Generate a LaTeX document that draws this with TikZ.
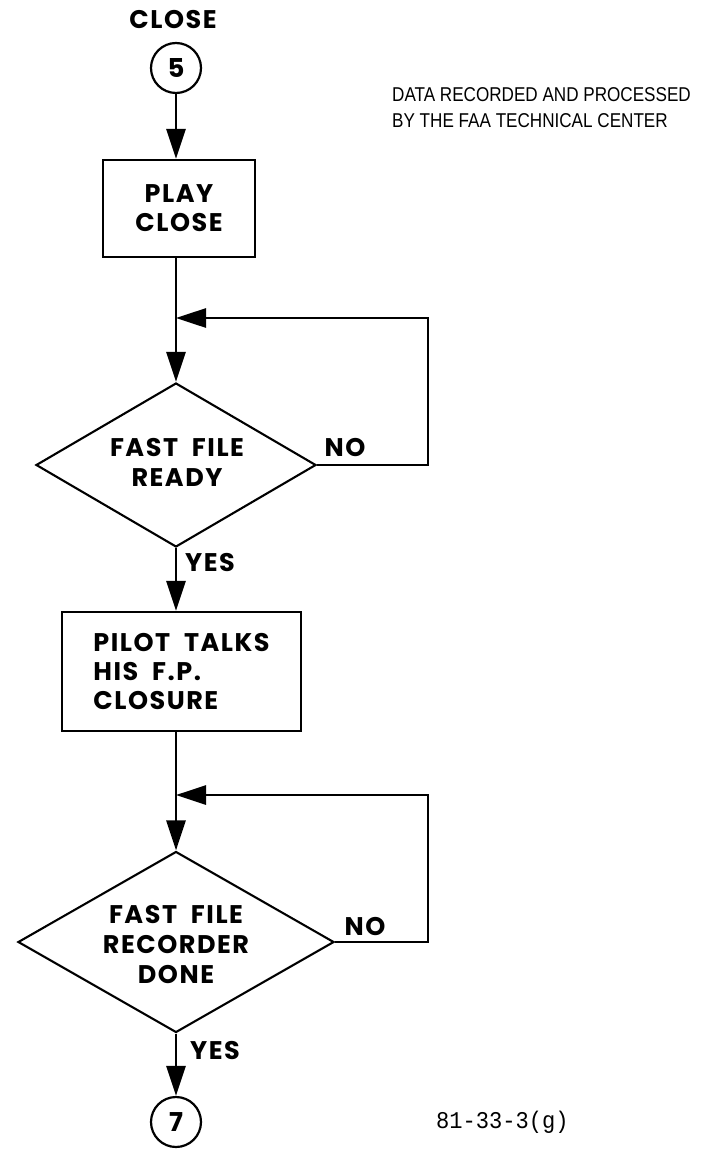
\documentclass[tikz,border=0pt]{standalone}
\usepackage{fontspec}
\setmainfont{Liberation Sans}
\newfontfamily\lettering{Poppins}[LetterSpace=6,WordSpace=2.0]
\newfontfamily\typewriter{Liberation Mono}
\usetikzlibrary{arrows.meta,shapes.geometric}
\begin{document}
\begin{tikzpicture}[x=1pt,y=-1pt,
  flow/.style={line width=2.9pt, line join=miter},
  tip/.style={-{Triangle[length=30pt,width=19pt]}},
  stepbox/.style={draw, line width=2.4pt, inner sep=0pt, align=center,
    font=\lettering\bfseries\fontsize{25.5}{29}\selectfont},
  decision/.style={draw, diamond, line width=2.1pt, inner sep=0pt},
  conn/.style={draw, circle, line width=2.2pt, minimum size=50pt, inner sep=0pt,
    font=\lettering\bfseries\fontsize{26}{26}\selectfont},
  lbl/.style={font=\lettering\bfseries\fontsize{25.5}{30}\selectfont, inner sep=0pt, align=center},
  ]
\path[use as bounding box] (0,0) rectangle (707,1150);

% entry connector
\node[lbl] (title) at (173,20) {CLOSE};
\node[conn] (c5) at (176,68) {5};

% note at the upper right
\node[anchor=west, inner sep=0pt, align=left, xscale=0.855,
  font=\fontsize{20}{26}\selectfont] (note) at (392,108)
  {DATA RECORDED AND PROCESSED\\BY THE FAA TECHNICAL CENTER};

% first step and wait loop
\node[stepbox, minimum width=152pt, minimum height=97pt] (b1) at (179,208.5) {PLAY\\CLOSE};
\coordinate (j1) at (176,318);
\coordinate (k1) at (428,318);
\node[decision, minimum width=280pt, minimum height=164pt] (d1) at (176,465) {};
\node[lbl] (t1) at (177,462) {FAST FILE\\READY};
\node[lbl] (no1) at (345,448) {NO};
\node[lbl, anchor=west] (yes1) at (185,563) {YES};

% second step and wait loop
\node[stepbox, align=left, minimum width=239pt, minimum height=119pt] (b2) at (181.5,671.5)
  {PILOT TALKS\\HIS F.P.\\CLOSURE};
\coordinate (j2) at (176,795);
\coordinate (k2) at (428,795);
\node[decision, minimum width=316pt, minimum height=181pt] (d2) at (176,942) {};
\node[lbl] (t2) at (176,944) {FAST FILE\\RECORDER\\DONE};
\node[lbl] (no2) at (365,927) {NO};
\node[lbl, anchor=west] (yes2) at (190,1050) {YES};

% exit connector
\node[conn] (c7) at (176,1122) {7};
\node[anchor=west, inner sep=0pt, xscale=0.92,
  font=\typewriter\fontsize{24}{24}\selectfont] (fig) at (436,1122) {81-33-3(g)};

% connectors
\draw[flow,tip] (c5) -- (b1.north -| c5);
\draw[flow] (b1.south -| c5) -- (j1);
\draw[flow,tip] (j1) -- (d1.north);
\draw[flow,tip] (d1.east) -| (k1) -- (j1);
\draw[flow,tip] (d1.south) -- (b2.north -| d1);
\draw[flow] (b2.south -| d1) -- (j2);
\draw[flow,tip] (j2) -- (d2.north);
\draw[flow,tip] (d2.east) -| (k2) -- (j2);
\draw[flow,tip] (d2.south) -- (c7);
\end{tikzpicture}
\end{document}
